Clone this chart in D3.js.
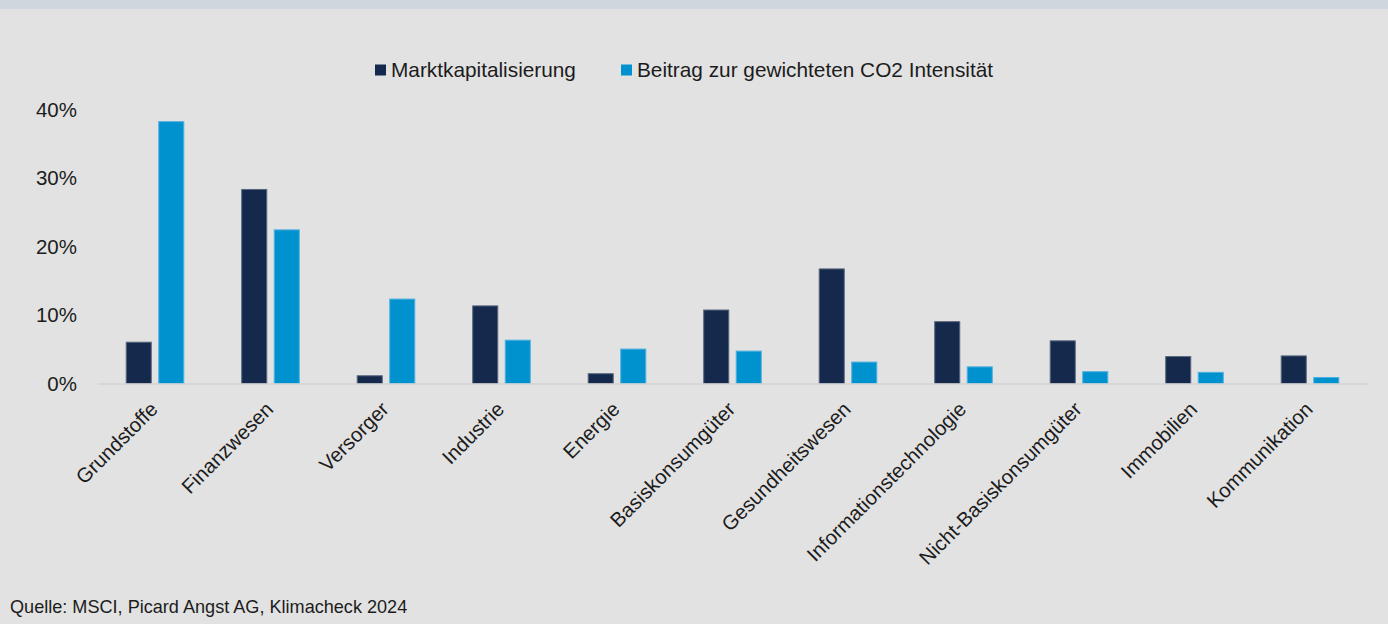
<!DOCTYPE html>
<html>
<head>
<meta charset="utf-8">
<script src="https://cdn.jsdelivr.net/npm/d3@7"></script>
<style>
  html, body { margin: 0; padding: 0; background: #e2e2e2; }
  svg { display: block; }
  text { font-family: "Liberation Sans", Arial, Helvetica, sans-serif; fill: #1c1c1c; }
</style>
</head>
<body>
<svg id="chart" width="1388" height="624"></svg>
<script>
// Sector breakdown: market cap share vs. contribution to weighted CO2 intensity
const categories = [
  "Grundstoffe", "Finanzwesen", "Versorger", "Industrie", "Energie",
  "Basiskonsumgüter", "Gesundheitswesen", "Informationstechnologie",
  "Nicht-Basiskonsumgüter", "Immobilien", "Kommunikation"
];
const seriesNames = ["Marktkapitalisierung", "Beitrag zur gewichteten CO2 Intensität"];
const marktkapitalisierung = [6.1, 28.4, 1.2, 11.4, 1.5, 10.8, 16.8, 9.1, 6.3, 4.0, 4.1];
const co2Beitrag = [38.3, 22.5, 12.4, 6.4, 5.1, 4.8, 3.2, 2.5, 1.8, 1.7, 0.95];
const yTicks = [0, 10, 20, 30, 40];
const seriesColors = ["#14294b", "#0091cf"];
const seriesStroke = ["#56657c", "#4fb0df"];
const sourceText = "Quelle: MSCI, Picard Angst AG, Klimacheck 2024";

const svg = d3.select("#chart");

// header strip
svg.append("rect").attr("x", 0).attr("y", 0).attr("width", 1388).attr("height", 9)
  .attr("fill", "#d0d6de");

const x0 = d3.scaleBand().domain(categories).range([97.25, 1367.75])
  .paddingInner(0.493).paddingOuter(0.2465);
const x1 = d3.scaleBand().domain(seriesNames).range([0, x0.bandwidth()]).paddingInner(0.2);
const y = d3.scaleLinear().domain([0, 40]).range([383.5, 109.5]);

const rows = categories.map((c, i) => ({ cat: c, values: [marktkapitalisierung[i], co2Beitrag[i]] }));

// bars
const groups = svg.append("g").selectAll("g").data(rows).join("g")
  .attr("transform", d => `translate(${x0(d.cat)},0)`);
groups.selectAll("rect")
  .data(d => d.values.map((v, k) => ({ k, v })))
  .join("rect")
  .attr("x", d => x1(seriesNames[d.k]) + 0.5)
  .attr("width", x1.bandwidth() - 1)
  .attr("y", d => y(d.v) + 0.5)
  .attr("height", d => Math.max(0, y(0) - y(d.v) - 0.5))
  .attr("fill", d => seriesColors[d.k])
  .attr("stroke", d => seriesStroke[d.k])
  .attr("stroke-width", 1);

// baseline and category labels
const xAxis = svg.append("g").attr("transform", `translate(0,${y(0)})`)
  .call(d3.axisBottom(x0).tickSize(0).tickSizeOuter(0).tickFormat(() => ""));
xAxis.select(".domain").attr("stroke", "#d3d3d3").attr("stroke-width", 1.6);

svg.append("g").selectAll("text").data(categories).join("text")
  .attr("transform", d => `translate(${x0(d) + x0.bandwidth() / 2 + 4},${y(0) + 27}) rotate(-45)`)
  .attr("text-anchor", "end")
  .attr("font-size", 20.3)
  .text(d => d);

// y axis labels
const yAxis = svg.append("g").attr("transform", "translate(77,0)")
  .call(d3.axisLeft(y).tickValues(yTicks).tickSize(0).tickPadding(0).tickFormat(d => d + "%"));
yAxis.select(".domain").remove();
yAxis.selectAll("text").attr("font-size", 20.5).attr("fill", "#1c1c1c")
  .style("font-family", "\"Liberation Sans\", Arial, Helvetica, sans-serif");

// legend
const legendX = [375, 621];
const legend = svg.append("g").selectAll("g").data(seriesNames).join("g")
  .attr("transform", (d, i) => `translate(${legendX[i]},64.5)`);
legend.append("rect").attr("width", 11).attr("height", 11)
  .attr("fill", (d, i) => seriesColors[i]);
legend.append("text").attr("x", 16).attr("y", 5.5).attr("dy", "0.35em")
  .attr("font-size", 20.8).text(d => d);

// source note
svg.append("text").attr("x", 10).attr("y", 613).attr("font-size", 18.1).text(sourceText);
</script>
</body>
</html>
